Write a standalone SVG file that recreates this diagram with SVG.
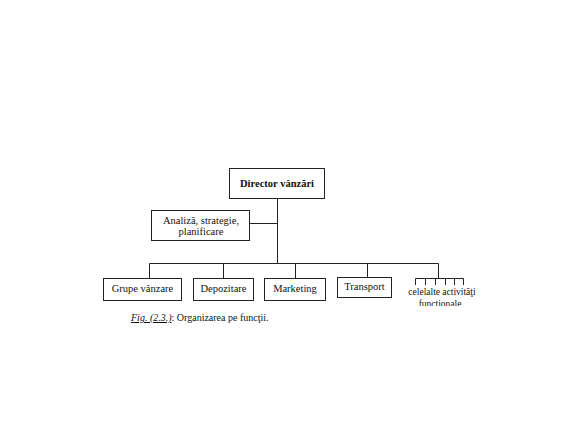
<svg xmlns="http://www.w3.org/2000/svg" width="575" height="432" viewBox="0 0 575 432">
<style>
.box{fill:#fff;stroke:#222;stroke-width:1}
.ln{fill:none;stroke:#222;stroke-width:1}
text{font-size:10.5px;fill:#111;text-anchor:middle}
.b{font-weight:bold}
.s{font-size:9.5px}
</style>
<defs><clipPath id="cl"><rect x="400" y="270" width="90" height="36"/></clipPath></defs>
<rect width="575" height="432" fill="#fff"/>
<g id="connectors" class="ln">
<path d="M277.5 198V263.5"/>
<path d="M250 223.5H277.5"/>
<path d="M149.5 263.5H438.5"/>
<path d="M149.5 263.5V278"/>
<path d="M223.5 263.5V278"/>
<path d="M295.5 263.5V278"/>
<path d="M367.5 263.5V277"/>
<path d="M438.5 263.5V278"/>
</g>
<g font-family="'Liberation Serif', 'Times New Roman', serif">
<g id="director"><rect class="box" x="229.5" y="168.5" width="95" height="30"/><text class="b" x="277" y="187">Director vânzări</text></g>
<g id="analiza"><rect class="box" x="151.5" y="210.5" width="98" height="30"/><text x="201" y="224">Analiză, strategie,</text><text x="201" y="235">planificare</text></g>
<g id="grupe"><rect class="box" x="103.5" y="278.5" width="78" height="22"/><text x="142.5" y="292">Grupe vânzare</text></g>
<g id="depozitare"><rect class="box" x="193.5" y="278.5" width="60" height="22"/><text x="223.5" y="292">Depozitare</text></g>
<g id="marketing"><rect class="box" x="264.5" y="278.5" width="61" height="22"/><text x="295" y="292">Marketing</text></g>
<g id="transport"><rect class="box" x="337.5" y="277.5" width="54" height="20"/><text x="364.5" y="290">Transport</text></g>
<g id="celelalte">
<path class="ln" d="M415.5 278.5H463.5M415.5 278.5V285M425.5 278.5V285M435.5 278.5V285M445.5 278.5V285M454.5 278.5V285M463.5 278.5V285"/>
<g clip-path="url(#cl)"><text class="s" x="442" y="295">celelalte activităţi</text><text class="s" x="440" y="306.5">funcţionale</text></g>
</g>
<text x="131" y="321" style="text-anchor:start;font-size:10px"><tspan style="font-style:italic;text-decoration:underline">Fig. (2.3.)</tspan>: Organizarea pe funcţii.</text>
</g>
</svg>
